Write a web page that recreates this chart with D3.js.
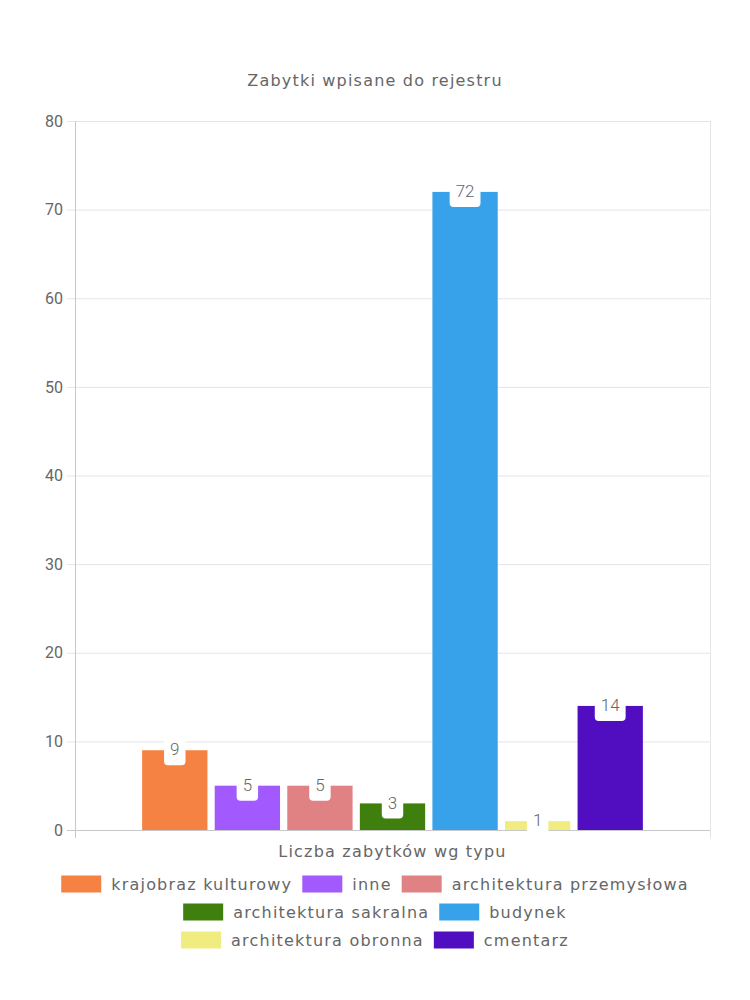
<!DOCTYPE html>
<html><head><meta charset="utf-8">
<script src="https://cdn.jsdelivr.net/npm/d3@7"></script>
<style>body{margin:0;background:#fff}</style>
</head><body>
<svg id="c" width="750" height="1000"></svg>
<script>
const title = "Zabytki wpisane do rejestru";
const xTitle = "Liczba zabytków wg typu";
const series = ["krajobraz kulturowy","inne","architektura przemysłowa","architektura sakralna","budynek","architektura obronna","cmentarz"];
const values = [9,5,5,3,72,1,14];
const colors = ["#f58242","#a25aff","#e08283","#3e7f0e","#37a2ea","#f0ec80","#500ec0"];
const yTicks = [0,10,20,30,40,50,60,70,80];
const legendRows = [[0,1,2],[3,4],[5,6]];

const svg = d3.select("#c");
const L = 75, R = 710, T = 121, B = 830;
const labelFont = "'DejaVu Sans', sans-serif";
const numFont = "Roboto, sans-serif";
const LS = "1.2px";

const y = d3.scaleLinear().domain([0,80]).range([B,T]);
const groupW = (R-L)*0.8, cx = (L+R)/2;
const x = d3.scaleBand().domain(series).range([cx-groupW/2, cx+groupW/2]).paddingInner(0.1).paddingOuter(0.05);

// title
svg.append("text").attr("x",375).attr("y",86).attr("text-anchor","middle")
  .attr("font-family",labelFont).attr("font-size",16).attr("letter-spacing",LS).attr("fill","#666").text(title);

// grid
const g = svg.append("g");
g.selectAll("line.h").data(yTicks).join("line")
  .attr("x1",L-8).attr("x2",R).attr("y1",d=>y(d)+0.5).attr("y2",d=>y(d)+0.5)
  .attr("stroke",d=>d===0?"#c8c8c8":"#e5e5e5").attr("stroke-width",1);
g.append("line").attr("x1",L+0.5).attr("x2",L+0.5).attr("y1",T).attr("y2",B+8).attr("stroke","#c8c8c8");
g.append("line").attr("x1",R+0.5).attr("x2",R+0.5).attr("y1",T).attr("y2",B+8).attr("stroke","#e5e5e5");

// y labels
const yAxis = d3.axisLeft(y).tickValues(yTicks).tickSize(0).tickPadding(12);
const ya = svg.append("g").attr("transform",`translate(${L},0)`).call(yAxis);
ya.select(".domain").remove();
ya.selectAll("text").attr("font-family",numFont).attr("font-size",16).attr("fill","#666");

// bars
svg.selectAll("rect.bar").data(series).join("rect")
  .attr("x",d=>x(d)).attr("width",x.bandwidth())
  .attr("y",(d,i)=>y(values[i])).attr("height",(d,i)=>B-y(values[i]))
  .attr("fill",(d,i)=>colors[i]);

// data labels
const lab = svg.selectAll("g.lab").data(series).join("g")
  .attr("transform",(d,i)=>`translate(${x(d)+x.bandwidth()/2},${y(values[i])})`);
lab.each(function(d,i){
  const s = d3.select(this);
  const t = s.append("text").attr("text-anchor","middle").attr("dy","0.3em")
    .attr("font-family",numFont).attr("font-size",17).attr("font-weight",300).attr("fill","#666").text(values[i]);
  const w = t.node().getComputedTextLength()+12;
  s.insert("rect","text").attr("x",-w/2).attr("y",-14).attr("width",w).attr("height",29)
    .attr("rx",4).attr("fill","#fff");
});

// x title
svg.append("text").attr("x",(L+R)/2).attr("y",857).attr("text-anchor","middle")
  .attr("font-family",labelFont).attr("font-size",16).attr("letter-spacing",LS).attr("fill","#666").text(xTitle);

// legend
const rowY = [884,912,940];
legendRows.forEach((row,ri)=>{
  const gr = svg.append("g");
  let xx = 0;
  row.forEach(i=>{
    const it = gr.append("g").attr("transform",`translate(${xx},0)`);
    it.append("rect").attr("x",0).attr("y",-8.5).attr("width",40).attr("height",17).attr("fill",colors[i]);
    const t = it.append("text").attr("x",50).attr("dy","0.35em")
      .attr("font-family",labelFont).attr("font-size",16).attr("letter-spacing",LS).attr("fill","#666").text(series[i]);
    xx += 50 + t.node().getComputedTextLength() + 10;
  });
  xx -= 10;
  gr.attr("transform",`translate(${375-xx/2},${rowY[ri]})`);
});
</script>
</body></html>
